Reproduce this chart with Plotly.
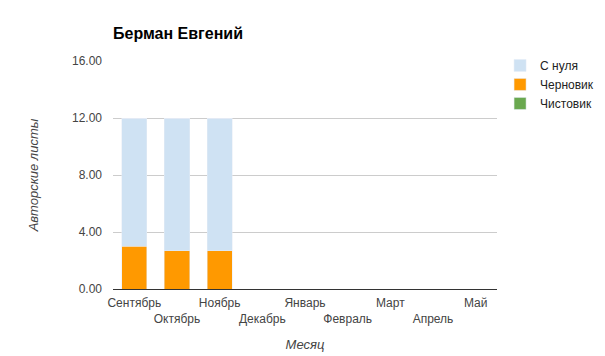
import plotly.graph_objects as go

months = ["Сентябрь", "Октябрь", "Ноябрь", "Декабрь", "Январь", "Февраль", "Март", "Апрель", "Май"]
s_nulya = [9.0, 9.33, 9.33, 0, 0, 0, 0, 0, 0]
chernovik = [3.0, 2.67, 2.67, 0, 0, 0, 0, 0, 0]
chistovik = [0, 0, 0, 0, 0, 0, 0, 0, 0]
y_ticks = [0, 4, 8, 12, 16]

tick_text = [m if i % 2 == 0 else "<br>" + m for i, m in enumerate(months)]

fig = go.Figure()
fig.add_trace(go.Bar(x=months, y=chernovik, name="Черновик", marker_color="#ff9900", legendrank=2))
fig.add_trace(go.Bar(x=months, y=s_nulya, name="С нуля", marker_color="#cfe2f3", legendrank=1))
fig.add_trace(go.Bar(x=months, y=chistovik, name="Чистовик", marker_color="#6aa84f", legendrank=3))

fig.update_layout(
    width=605, height=356,
    barmode="stack", bargap=0.41,
    margin=dict(l=105, r=116, t=53, b=75, autoexpand=False),
    paper_bgcolor="white", plot_bgcolor="white",
    font=dict(family="Liberation Sans, Arial, sans-serif", size=12, color="#444"),
    title=dict(text="<b>Берман Евгений</b>", x=105/605, xanchor="left", y=1-25/356, yanchor="middle",
               font=dict(size=16, color="#000")),
    legend=dict(x=1.008, xref="paper", y=1.044, yanchor="top", xanchor="left",
                traceorder="normal", font=dict(size=12, color="#222"),
                tracegroupgap=0),
    xaxis=dict(tickmode="array", tickvals=months, ticktext=tick_text, showline=True,
               linecolor="#333", linewidth=1, ticks="", tickangle=0, automargin=False,
               tickfont=dict(size=12, color="#444"), ticklabelstandoff=3,
               title=dict(text="<i>Месяц</i>", font=dict(size=13, color="#444"), standoff=14)),
    yaxis=dict(range=[0, 16], tickmode="array", tickvals=y_ticks, automargin=False,
               ticktext=[f"{v:.2f}" for v in y_ticks], gridcolor="#cccccc", zeroline=False,
               tickfont=dict(size=12, color="#444"), ticklabelstandoff=10,
               title=dict(text="<i>Авторские листы</i>", font=dict(size=13, color="#444"), standoff=30)),
)

fig.write_html("out.html")
